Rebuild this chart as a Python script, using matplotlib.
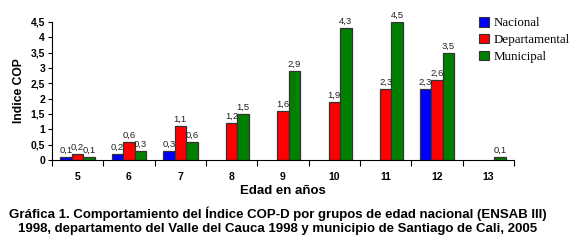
import numpy as np
import matplotlib
matplotlib.use("Agg")
import matplotlib.pyplot as plt
from matplotlib.patches import Patch

categories = ["5", "6", "7", "8", "9", "10", "11", "12", "13"]
nacional = [0.1, 0.2, 0.3, np.nan, np.nan, np.nan, np.nan, 2.3, np.nan]
departamental = [0.2, 0.6, 1.1, 1.2, 1.6, 1.9, 2.3, 2.6, np.nan]
municipal = [0.1, 0.3, 0.6, 1.5, 2.9, 4.3, 4.5, 3.5, 0.1]
series_names = ["Nacional", "Departamental", "Municipal"]
colors = ["#0000FF", "#FF0000", "#008000"]
yticks = [0, 0.5, 1, 1.5, 2, 2.5, 3, 3.5, 4, 4.5]

fig = plt.figure(figsize=(5.79, 2.43), dpi=100)
ax = fig.add_axes([0.0898, 0.3416, 0.7979, 0.5679])

x = np.arange(len(categories))
w = 0.224
for i, (vals, c) in enumerate(zip([nacional, departamental, municipal], colors)):
    pos = x + (i - 1) * w
    v = np.array(vals, dtype=float)
    mask = ~np.isnan(v)
    ax.bar(pos[mask], v[mask], width=w, color=c, edgecolor="#333333", linewidth=0.9)
    for p, val in zip(pos[mask], v[mask]):
        ax.text(p, val + 0.07, f"{val:.1f}".replace(".", ","), ha="center", va="bottom",
                fontsize=6.8, family="Liberation Sans", color="#222222")

ax.set_xlim(-0.5, len(categories) - 0.5)
ax.set_ylim(0, 4.5)
ax.set_yticks(yticks)
ax.set_yticklabels([f"{t:g}".replace(".", ",") for t in yticks], fontsize=7.5,
                   fontweight="bold", family="Liberation Sans")
ax.set_xticks(x)
ax.set_xticklabels(categories, fontsize=7.5, fontweight="bold", family="Liberation Sans")
ax.set_xticks(np.arange(-0.5, len(categories), 1.0), minor=True)
ax.tick_params(axis="x", which="major", length=0, pad=9)
ax.tick_params(axis="x", which="minor", length=4, width=0.8, direction="out")
ax.tick_params(axis="y", length=3, width=0.8, direction="out", pad=2)
for s in ["top", "right"]:
    ax.spines[s].set_visible(False)
ax.spines["left"].set_linewidth(0.8)
ax.spines["bottom"].set_linewidth(0.8)

ax.set_ylabel("Indice COP", fontsize=8.7, fontweight="bold", family="Liberation Sans", labelpad=4)
ax.set_xlabel("Edad en años", fontsize=9.5, fontweight="bold", family="Liberation Sans", labelpad=2)

handles = [Patch(facecolor=c, edgecolor="#333333", linewidth=0.8) for c in colors]
fig.legend(handles, series_names, loc="upper left", bbox_to_anchor=(0.828, 0.93),
           frameon=False, prop={"family": "Liberation Serif", "size": 9.4},
           handlelength=0.75, handleheight=0.75, handletextpad=0.35, labelspacing=0.35,
           borderaxespad=0, borderpad=0)

fig.text(0.48, 0.09, "Gráfica 1. Comportamiento del Índice COP-D por grupos de edad nacional (ENSAB III)\n"
         "1998, departamento del Valle del Cauca 1998 y municipio de Santiago de Cali, 2005",
         ha="center", va="center", fontsize=9.5, fontweight="bold", family="Liberation Sans",
         linespacing=1.2)

fig.savefig("out.png", dpi=100)
